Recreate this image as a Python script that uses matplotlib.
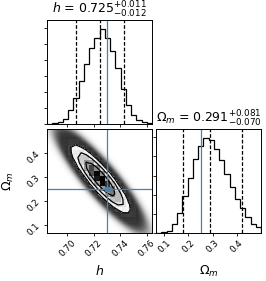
import numpy as np
import matplotlib
matplotlib.use("Agg")
import matplotlib.pyplot as plt
from matplotlib.colors import LinearSegmentedColormap, to_rgba
from matplotlib.ticker import FixedLocator, MultipleLocator

# =========================
# Dados
# =========================
labels = [r"$h$", r"$\Omega_m$"]
titles = [r"$h$ = $0.725_{-0.012}^{+0.011}$",
          r"$\Omega_m$ = $0.291_{-0.070}^{+0.081}$"]

h_range = (0.6845, 0.7640)
om_range = (0.066, 0.500)

# 20 bins por parametro (contagens)
h_counts = [0, 20, 55, 170, 440, 820, 1365, 1890, 2395, 2690,
            2970, 2710, 2290, 1745, 1115, 590, 275, 125, 50, 20]
om_counts = [0, 20, 65, 270, 630, 1150, 1740, 2315, 2735, 2965,
             2915, 2620, 2285, 1865, 1445, 1080, 785, 505, 295, 190]

h_quantiles = [0.7068, 0.725, 0.7425]
om_quantiles = [0.179, 0.291, 0.423]
truths = [0.73, 0.25]

h_ticks = [0.70, 0.72, 0.74, 0.76]
om_ticks = [0.1, 0.2, 0.3, 0.4]
h_count_step = 500
om_count_step = 600

h_mean, h_sigma = 0.725, 0.0115
om_mean, om_sigma = 0.291, 0.073
rho = -0.885

truth_color = "#4682b4"
levels = 1.0 - np.exp(-0.5 * np.arange(0.5, 2.1, 0.5) ** 2)


def post2d(x, y):
    dx = (x - h_mean) / h_sigma
    dy = (y - om_mean) / om_sigma
    q = (dx ** 2 + dy ** 2 - 2 * rho * dx * dy) / (1 - rho ** 2)
    return np.exp(-0.5 * q)


fig = plt.figure(figsize=(2.66, 2.81), dpi=100)
W, H = 266.0, 281.0


def add_ax(x0, y0, x1, y1):
    return fig.add_axes([x0 / W, 1 - y1 / H, (x1 - x0) / W, (y1 - y0) / H])


ax_h = add_ax(47, 20, 152, 124)
ax_2d = add_ax(47, 129, 152, 233)
ax_om = add_ax(156, 129, 261, 233)

for ax in (ax_h, ax_2d, ax_om):
    for s in ax.spines.values():
        s.set_linewidth(0.7)
    ax.tick_params(length=2.5, width=0.6, labelsize=6.3, pad=1.5)


# =========================
# Histogramas 1D
# =========================
def hist1d(ax, counts, rng, quants, truth, step, title):
    edges = np.linspace(rng[0], rng[1], len(counts) + 1)
    ax.stairs(counts, edges, color="k", lw=0.9)
    for q in quants:
        ax.axvline(q, ls="--", color="k", lw=0.9, dashes=(3, 1.5))
    ax.axvline(truth, color=truth_color, lw=0.9)
    ax.set_xlim(rng)
    ax.set_ylim(0, 1.1 * max(counts))
    ax.yaxis.set_major_locator(MultipleLocator(step))
    ax.set_yticklabels([])
    ax.set_title(title, fontsize=9, pad=1.5)


hist1d(ax_h, h_counts, h_range, h_quantiles, truths[0], h_count_step, titles[0])
ax_h.xaxis.set_major_locator(FixedLocator(h_ticks))
ax_h.set_xticklabels([])

hist1d(ax_om, om_counts, om_range, om_quantiles, truths[1], om_count_step, titles[1])
ax_om.xaxis.set_major_locator(FixedLocator(om_ticks))
ax_om.set_xticklabels([f"{t:.1f}" for t in om_ticks], rotation=45)
ax_om.set_xlabel(labels[1], fontsize=9)
ax_om.xaxis.set_label_coords(0.5, -0.3)

# =========================
# Painel 2D
# =========================
# nuvem de amostras (densidade fina)
xf = np.linspace(h_range[0], h_range[1], 400)
yf = np.linspace(om_range[0], om_range[1], 400)
XF, YF = np.meshgrid(xf, yf)
pf = post2d(XF, YF)
alpha = 1 - np.exp(-80 * pf)
img = np.zeros(pf.shape + (4,))
img[..., 0:3] = 0.15
img[..., 3] = alpha
ax_2d.imshow(img, origin="lower", extent=[*h_range, *om_range],
             aspect="auto", interpolation="bilinear", zorder=-1)

# histograma 2D (20x20) como no corner
xe = np.linspace(h_range[0], h_range[1], 21)
ye = np.linspace(om_range[0], om_range[1], 21)
xc = 0.5 * (xe[1:] + xe[:-1])
yc = 0.5 * (ye[1:] + ye[:-1])
Hg = post2d(xc[:, None], yc[None, :])

Hflat = np.sort(Hg.flatten())[::-1]
sm = np.cumsum(Hflat)
sm /= sm[-1]
V = np.empty(len(levels))
for i, v0 in enumerate(levels):
    try:
        V[i] = Hflat[sm <= v0][-1]
    except IndexError:
        V[i] = Hflat[0]
V.sort()

dx, dy = xe[1] - xe[0], ye[1] - ye[0]
x2 = np.concatenate([xc[0] + np.array([-2, -1]) * dx, xc, xc[-1] + np.array([1, 2]) * dx])
y2 = np.concatenate([yc[0] + np.array([-2, -1]) * dy, yc, yc[-1] + np.array([1, 2]) * dy])
H2 = post2d(x2[:, None], y2[None, :])

white_cmap = LinearSegmentedColormap.from_list("white_cmap", [(1, 1, 1), (1, 1, 1)], N=2)
density_cmap = LinearSegmentedColormap.from_list("density_cmap", [to_rgba("k"), (1, 1, 1, 0)])

ax_2d.contourf(x2, y2, H2.T, [V.min(), H2.max()], cmap=white_cmap, antialiased=False)
ax_2d.pcolormesh(xe, ye, Hg.max() - Hg.T, cmap=density_cmap, shading="flat")
ax_2d.contour(x2, y2, H2.T, V, colors="k", linewidths=0.9)

ax_2d.axvline(truths[0], color=truth_color, lw=0.9)
ax_2d.axhline(truths[1], color=truth_color, lw=0.9)
ax_2d.plot(truths[0], truths[1], "s", color=truth_color, ms=3.5)

ax_2d.set_xlim(h_range)
ax_2d.set_ylim(om_range)
ax_2d.xaxis.set_major_locator(FixedLocator(h_ticks))
ax_2d.yaxis.set_major_locator(FixedLocator(om_ticks))
ax_2d.set_xticklabels([f"{t:.2f}" for t in h_ticks], rotation=45)
ax_2d.set_yticklabels([f"{t:.1f}" for t in om_ticks], rotation=45)
ax_2d.set_xlabel(labels[0], fontsize=9)
ax_2d.set_ylabel(labels[1], fontsize=9)
ax_2d.xaxis.set_label_coords(0.5, -0.3)
ax_2d.yaxis.set_label_coords(-0.3, 0.5)

fig.savefig("out.png", dpi=100)
